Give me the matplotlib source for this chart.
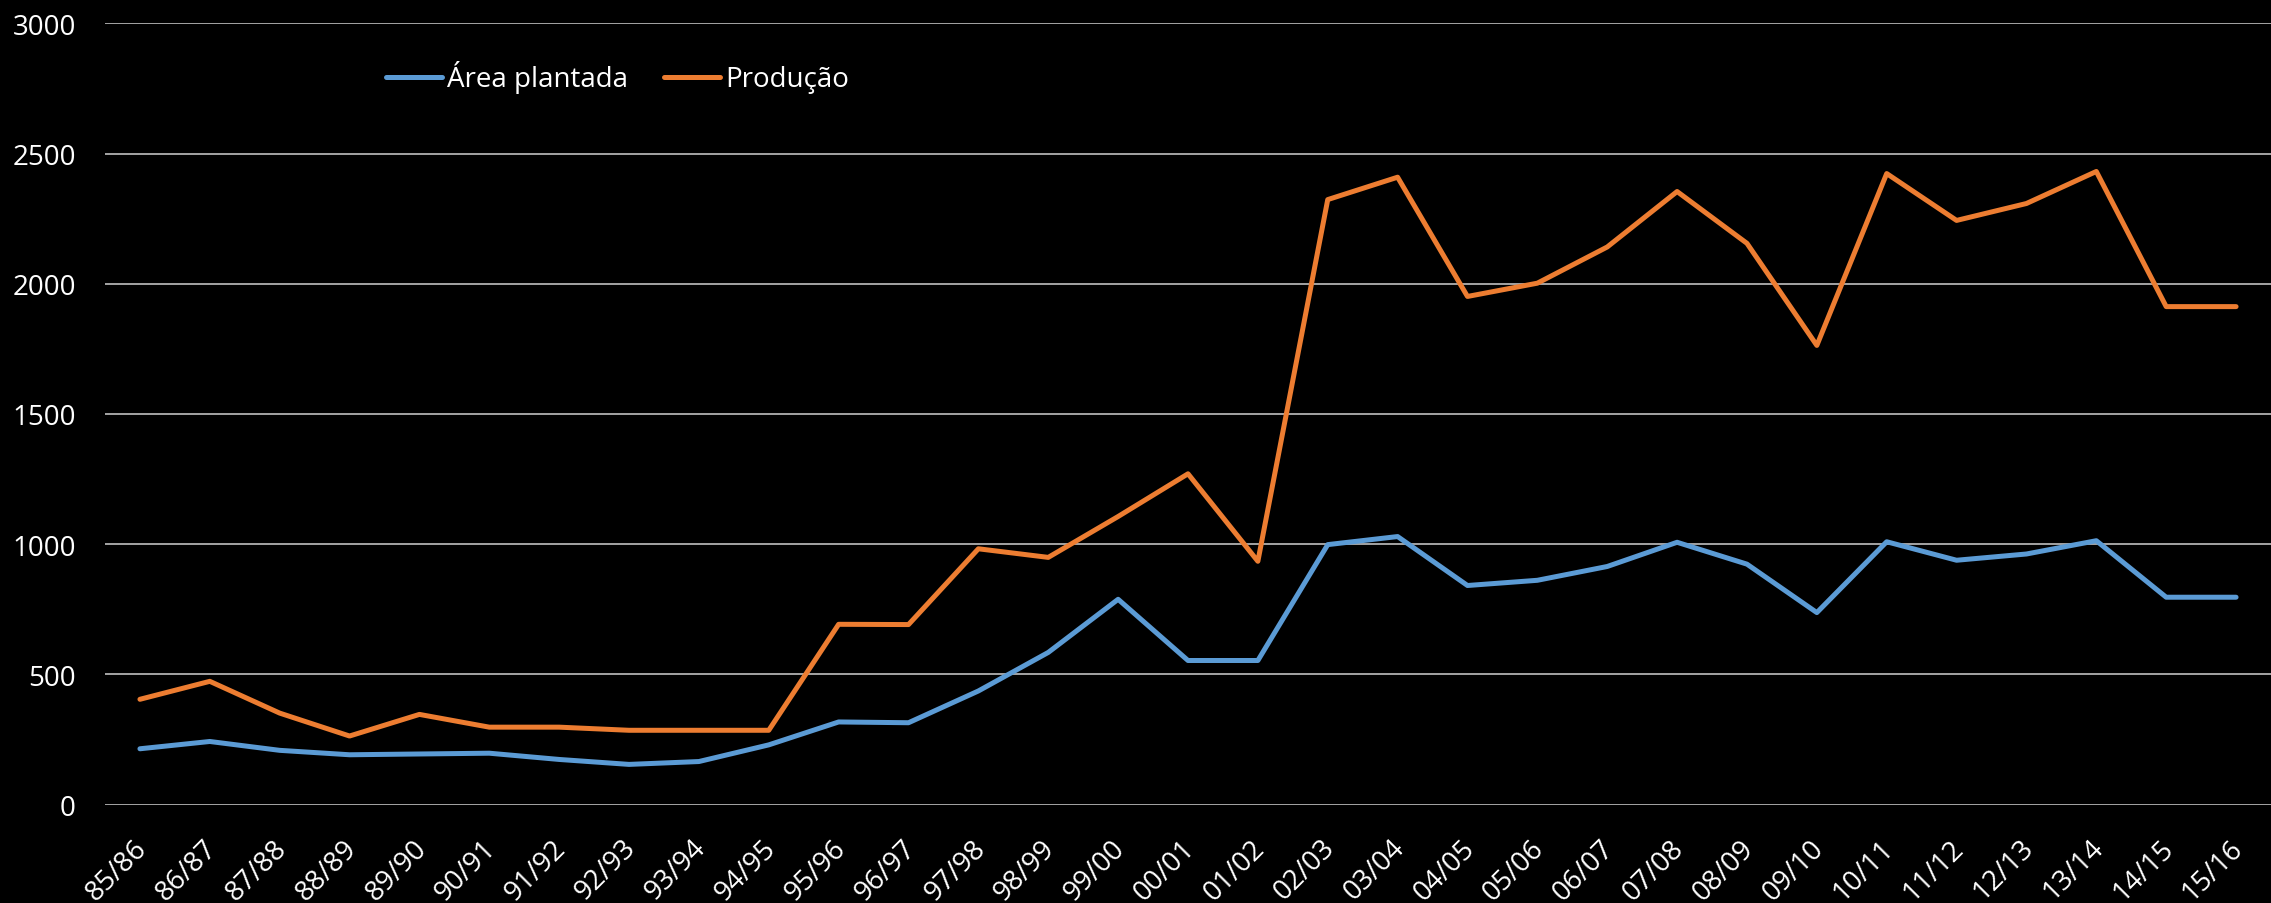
import matplotlib.pyplot as plt
from matplotlib.transforms import ScaledTranslation

# Safras
safras = ["85/86", "86/87", "87/88", "88/89", "89/90", "90/91", "91/92", "92/93",
          "93/94", "94/95", "95/96", "96/97", "97/98", "98/99", "99/00", "00/01",
          "01/02", "02/03", "03/04", "04/05", "05/06", "06/07", "07/08", "08/09",
          "09/10", "10/11", "11/12", "12/13", "13/14", "14/15", "15/16"]

area_plantada = [214, 242, 208, 191, 194, 197, 173, 154, 165, 229, 317, 314,
                 436, 584, 788, 553, 553, 998, 1029, 841, 861, 914, 1007, 923,
                 737, 1009, 938, 962, 1013, 796, 796]

producao = [404, 473, 351, 263, 346, 297, 297, 285, 285, 285, 692, 691,
            982, 949, 1106, 1270, 934, 2323, 2409, 1951, 2002, 2141, 2354, 2155,
            1763, 2423, 2243, 2308, 2431, 1912, 1912]

y_ticks = [0, 500, 1000, 1500, 2000, 2500, 3000]

blue = "#5B9BD5"
orange = "#ED7D31"

plt.rcParams["font.family"] = ["Open Sans", "DejaVu Sans"]

fig = plt.figure(figsize=(22.71, 9.04), dpi=100, facecolor="black")
ax = fig.add_axes([105 / 2271, 1 - 805.5 / 904, 1 - 105 / 2271, (805.5 - 24.3) / 904])
ax.set_facecolor("black")

x = list(range(len(safras)))
ax.plot(x, area_plantada, color=blue, linewidth=3.6, label="Área plantada",
        solid_joinstyle="round", solid_capstyle="round")
ax.plot(x, producao, color=orange, linewidth=3.6, label="Produção",
        solid_joinstyle="round", solid_capstyle="round")

ax.set_xlim(-0.5, len(safras) - 0.5)
ax.set_ylim(0, 3000)
ax.set_yticks(y_ticks)
ax.set_xticks(x)
ax.set_xticklabels(safras, rotation=45, ha="right", va="top", rotation_mode="anchor")

ax.grid(axis="y", color="#BFBFBF", linewidth=1.2)
ax.set_axisbelow(True)
for s in ax.spines.values():
    s.set_visible(False)
ax.tick_params(axis="y", length=0, pad=21, labelsize=20, labelcolor="white")
ax.tick_params(axis="x", length=0, pad=21, labelsize=20, labelcolor="white")

# nudge the rotated labels a little to the left, like the original
shift = ScaledTranslation(-7 / 100, 0, fig.dpi_scale_trans)
for lbl in ax.get_xticklabels():
    lbl.set_transform(lbl.get_transform() + shift)

fig.legend(loc="center left", bbox_to_anchor=(386 / 2271, 1 - 78 / 904),
           ncol=2, frameon=False, fontsize=20, labelcolor="white",
           handlelength=2.0, handletextpad=0.2, columnspacing=1.3,
           borderpad=0, borderaxespad=0)

fig.savefig("out.png", dpi=100, facecolor="black")
